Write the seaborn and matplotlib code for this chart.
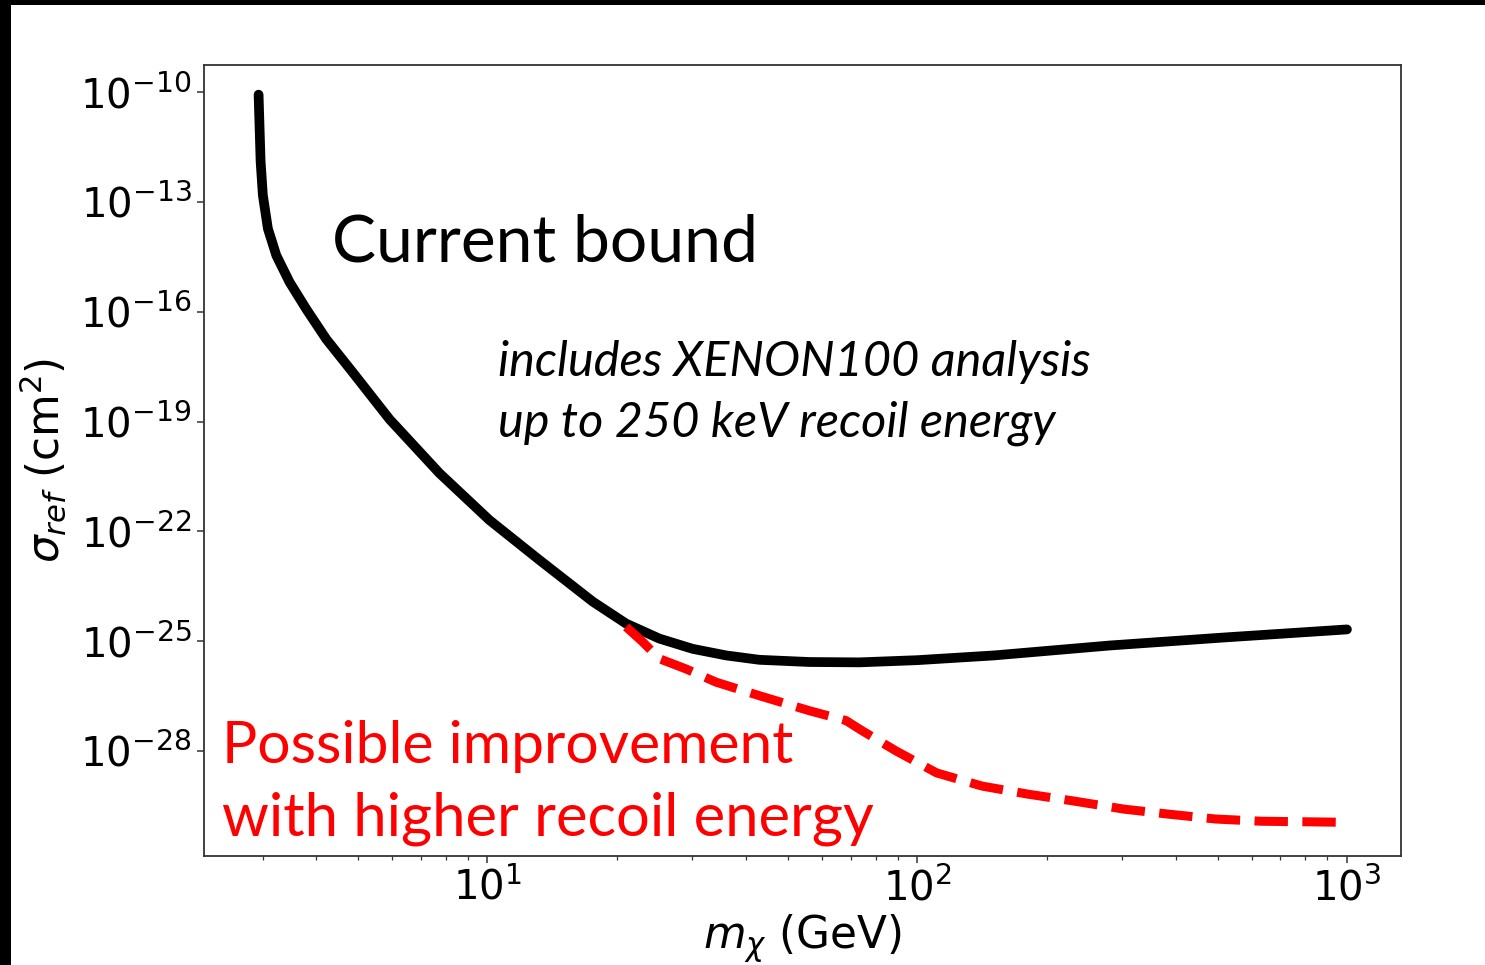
import numpy as np
import pandas as pd
import matplotlib
matplotlib.use("Agg")
import matplotlib.pyplot as plt
from matplotlib.patches import Rectangle
from matplotlib.ticker import NullLocator, FixedLocator
import seaborn as sns

# ---- data ----
bound_mass = [2.934, 2.950, 2.966, 3.002, 3.084, 3.226, 3.463, 3.789, 4.217, 4.861, 5.92,
              7.73, 10.1, 13.2, 17.58, 21.02, 25.12, 30.02, 35.91, 42.91, 56.09, 73.3,
              100, 151, 280, 518, 1000]
bound_log_sigma = [-10.07, -10.99, -11.90, -12.82, -13.73, -14.46, -15.19, -15.93, -16.75,
                   -17.66, -18.94, -20.41, -21.69, -22.78, -23.92, -24.52, -24.93, -25.21,
                   -25.39, -25.51, -25.57, -25.58, -25.52, -25.39, -25.12, -24.90, -24.68]

improved_mass = [21.02, 22.97, 25.12, 28.98, 34.03, 42.91, 56.09, 68.3, 74.5, 89.3, 111,
                 141.6, 181, 232, 303, 387, 495, 631, 1000]
improved_log_sigma = [-24.61, -25.02, -25.48, -25.76, -26.12, -26.49, -26.90, -27.17, -27.45,
                      -28.0, -28.6, -28.96, -29.18, -29.37, -29.59, -29.73, -29.86, -29.92,
                      -29.95]

y_tick_exponents = [-28, -25, -22, -19, -16, -13, -10]
x_limits = (2.19, 1336)
y_limits_exp = (-30.87, -9.26)

bound_df = pd.DataFrame({"mass": bound_mass, "sigma": 10.0 ** np.array(bound_log_sigma)})
improved_df = pd.DataFrame({"mass": improved_mass, "sigma": 10.0 ** np.array(improved_log_sigma)})

sns.set_style("ticks")
plt.rcParams["font.family"] = ["DejaVu Sans"]
plt.rcParams["mathtext.fontset"] = "dejavusans"
plt.rcParams["text.color"] = "black"
plt.rcParams["axes.labelcolor"] = "black"
plt.rcParams["xtick.color"] = "black"
plt.rcParams["ytick.color"] = "black"

W, H = 1485, 965
fig = plt.figure(figsize=(W / 100, H / 100), dpi=100)
ax = fig.add_axes([204 / W, 1 - 856 / H, (1401 - 204) / W, (856 - 65) / H])

sns.lineplot(data=bound_df, x="mass", y="sigma", ax=ax, color="black",
             linewidth=7.0, sort=True, estimator=None)
sns.lineplot(data=improved_df, x="mass", y="sigma", ax=ax, color="#ff0000",
             linewidth=6.5, linestyle="--", sort=True, estimator=None)

ax.set_xscale("log")
ax.set_yscale("log")
ax.set_xlim(*x_limits)
ax.set_ylim(10.0 ** y_limits_exp[0], 10.0 ** y_limits_exp[1])
ax.yaxis.set_major_locator(FixedLocator([10.0 ** e for e in y_tick_exponents]))
ax.yaxis.set_minor_locator(NullLocator())

for s in ax.spines.values():
    s.set_color("#333333")
    s.set_linewidth(1.3)
ax.tick_params(axis="both", which="major", labelsize=29, length=5, width=1.1,
               color="#333333", labelcolor="black", pad=4)
ax.tick_params(axis="x", which="minor", length=3, width=0.9, color="#333333")

ax.set_xlabel(r"$m_\chi$ (GeV)", fontsize=31.5, labelpad=2, color="black")
ax.set_ylabel(r"$\sigma_{ref}$ (cm$^2$)", fontsize=31.5, labelpad=8, color="black")

ann = "Lato"
fig.text(332 / W, 1 - 262 / H, "Current bound", fontsize=47.5, family=ann,
         color="black", va="baseline", ha="left")
fig.text(498 / W, 1 - 376 / H, "includes XENON100 analysis", fontsize=35, family=ann,
         style="italic", color="black", va="baseline", ha="left")
fig.text(498 / W, 1 - 437 / H, "up to 250 keV recoil energy", fontsize=35, family=ann,
         style="italic", color="black", va="baseline", ha="left")
fig.text(222 / W, 1 - 763 / H, "Possible improvement", fontsize=42.3, family=ann,
         color="#ff0000", va="baseline", ha="left")
fig.text(222 / W, 1 - 835 / H, "with higher recoil energy", fontsize=43, family=ann,
         color="#ff0000", va="baseline", ha="left")

# black border strips seen on the top and left edges of the reference image
fig.patches.append(Rectangle((0, 1 - 5 / H), 1, 5 / H, transform=fig.transFigure,
                             facecolor="black", edgecolor="none", zorder=10))
fig.patches.append(Rectangle((0, 0), 11 / W, 1, transform=fig.transFigure,
                             facecolor="black", edgecolor="none", zorder=10))

fig.savefig("out.png", dpi=100)
